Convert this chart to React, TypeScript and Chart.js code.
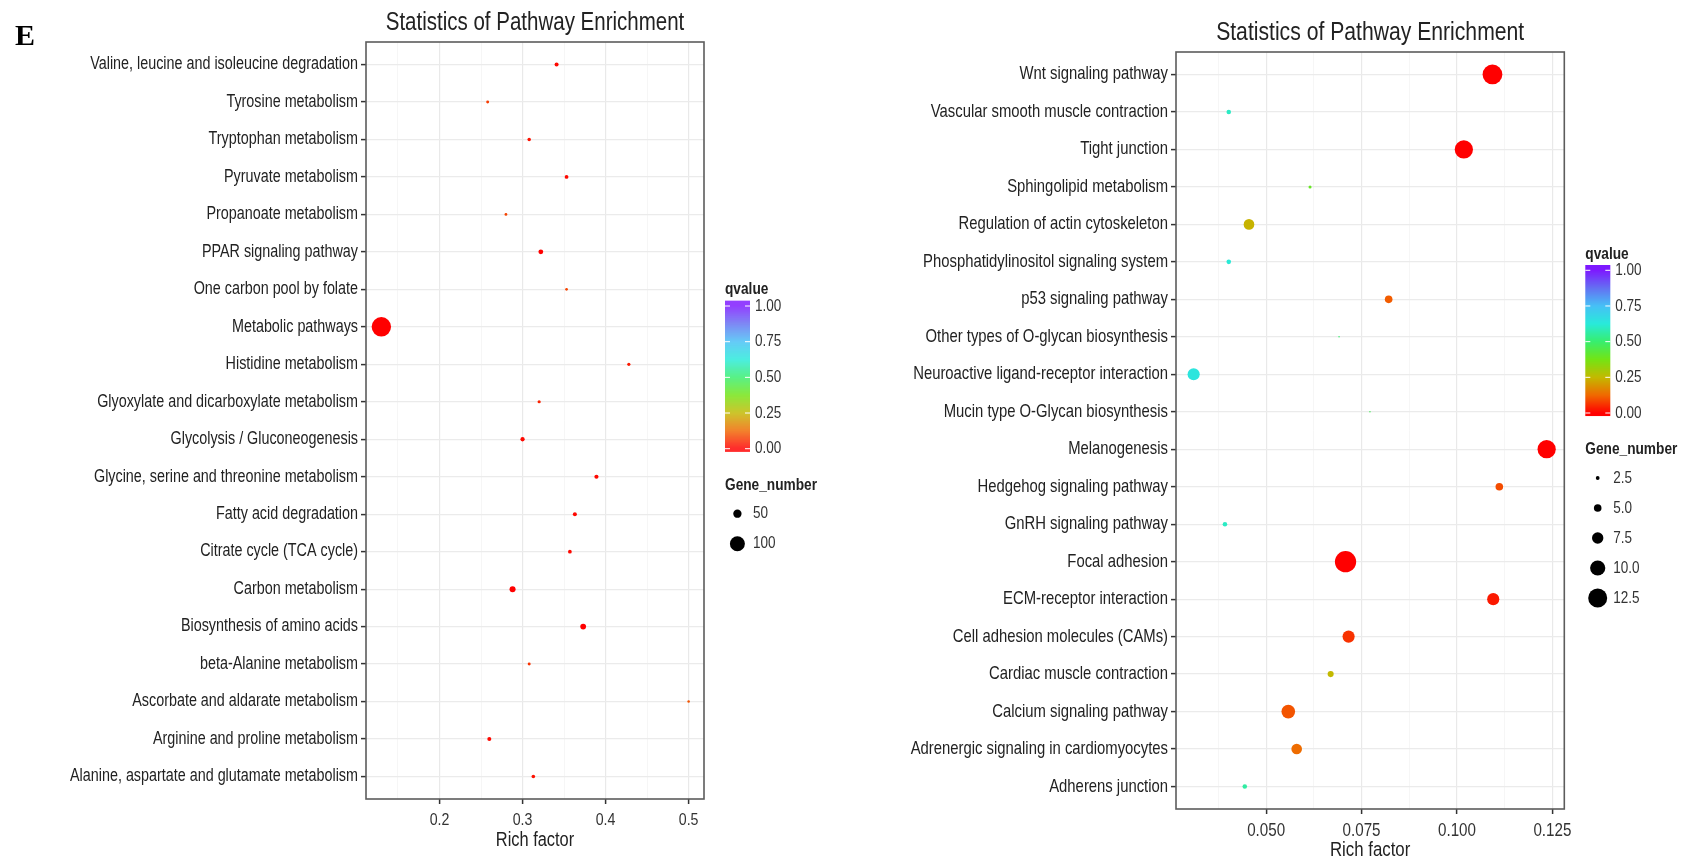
import React, { useEffect, useRef } from 'react';
import { Chart, registerables } from 'chart.js';

Chart.register(...registerables);

// ---------------- Data ----------------
const TITLE = 'Statistics of Pathway Enrichment';
const X_TITLE = 'Rich factor';
const PANEL_TAG = 'E';

// Left panel (listed top to bottom)
const LEFT_PATHWAYS = [
  'Valine, leucine and isoleucine degradation',
  'Tyrosine metabolism',
  'Tryptophan metabolism',
  'Pyruvate metabolism',
  'Propanoate metabolism',
  'PPAR signaling pathway',
  'One carbon pool by folate',
  'Metabolic pathways',
  'Histidine metabolism',
  'Glyoxylate and dicarboxylate metabolism',
  'Glycolysis / Gluconeogenesis',
  'Glycine, serine and threonine metabolism',
  'Fatty acid degradation',
  'Citrate cycle (TCA cycle)',
  'Carbon metabolism',
  'Biosynthesis of amino acids',
  'beta-Alanine metabolism',
  'Ascorbate and aldarate metabolism',
  'Arginine and proline metabolism',
  'Alanine, aspartate and glutamate metabolism',
];
const LEFT_RICH = [0.341, 0.258, 0.308, 0.353, 0.28, 0.322, 0.353, 0.13, 0.428, 0.32, 0.3, 0.389, 0.363, 0.357, 0.288, 0.373, 0.308, 0.5, 0.26, 0.313];
const LEFT_GENES = [18, 10, 14, 16, 9, 24, 8, 133, 12, 12, 20, 19, 18, 16, 33, 31, 10, 7, 18, 15];
const LEFT_QVALUE = [0.01, 0.07, 0.02, 0.01, 0.08, 0.0, 0.08, 0.0, 0.03, 0.04, 0.01, 0.01, 0.01, 0.01, 0.0, 0.0, 0.06, 0.1, 0.01, 0.02];
const LEFT_X_TICKS = [0.2, 0.3, 0.4, 0.5];
const LEFT_X_LABELS = ['0.2', '0.3', '0.4', '0.5'];
const LEFT_X_MINOR = [0.15, 0.25, 0.35, 0.45];
const LEFT_SIZE_BREAKS = [50, 100];
const LEFT_SIZE_LABELS = ['50', '100'];

// Right panel (listed top to bottom)
const RIGHT_PATHWAYS = [
  'Wnt signaling pathway',
  'Vascular smooth muscle contraction',
  'Tight junction',
  'Sphingolipid metabolism',
  'Regulation of actin cytoskeleton',
  'Phosphatidylinositol signaling system',
  'p53 signaling pathway',
  'Other types of O-glycan biosynthesis',
  'Neuroactive ligand-receptor interaction',
  'Mucin type O-Glycan biosynthesis',
  'Melanogenesis',
  'Hedgehog signaling pathway',
  'GnRH signaling pathway',
  'Focal adhesion',
  'ECM-receptor interaction',
  'Cell adhesion molecules (CAMs)',
  'Cardiac muscle contraction',
  'Calcium signaling pathway',
  'Adrenergic signaling in cardiomyocytes',
  'Adherens junction',
];
const RIGHT_RICH = [0.1093, 0.0402, 0.1018, 0.0615, 0.0455, 0.0402, 0.0821, 0.0691, 0.031, 0.0772, 0.1235, 0.1111, 0.0392, 0.0708, 0.1095, 0.0716, 0.0669, 0.0558, 0.058, 0.0444];
const RIGHT_GENES = [13, 3, 12, 2, 7, 3, 5, 1, 8, 1, 12, 5, 3, 14, 8, 8, 4, 9, 7, 3];
const RIGHT_QVALUE = [0.0, 0.6, 0.0, 0.4, 0.24, 0.62, 0.11, 0.5, 0.64, 0.47, 0.0, 0.09, 0.6, 0.0, 0.03, 0.06, 0.25, 0.1, 0.13, 0.56];
const RIGHT_X_TICKS = [0.05, 0.075, 0.1, 0.125];
const RIGHT_X_LABELS = ['0.050', '0.075', '0.100', '0.125'];
const RIGHT_X_MINOR = [0.0375, 0.0625, 0.0875, 0.1125];
const RIGHT_SIZE_BREAKS = [2.5, 5, 7.5, 10, 12.5];
const RIGHT_SIZE_LABELS = ['2.5', '5.0', '7.5', '10.0', '12.5'];

const Q_BREAKS = [0, 0.25, 0.5, 0.75, 1];
const Q_LABELS = ['0.00', '0.25', '0.50', '0.75', '1.00'];

// ---------------- Styles ----------------
const FONT = '"Liberation Sans", Arial, Helvetica, sans-serif';
const TEXT = '#222222';
const SQUEEZE = 0.82; // narrow-sans look of the original figure

const Q_STOPS: [number, number[]][] = [
  [0.0, [255, 0, 0]],
  [0.125, [240, 105, 0]],
  [0.25, [195, 185, 0]],
  [0.375, [115, 228, 20]],
  [0.5, [55, 238, 110]],
  [0.625, [40, 234, 218]],
  [0.75, [70, 192, 246]],
  [0.875, [100, 112, 242]],
  [1.0, [125, 25, 255]],
];

function qColor(q: number): string {
  const v = Math.max(0, Math.min(1, q));
  for (let i = 1; i < Q_STOPS.length; i++) {
    const [p1, c1] = Q_STOPS[i];
    const [p0, c0] = Q_STOPS[i - 1];
    if (v <= p1) {
      const t = (v - p0) / (p1 - p0);
      const c = c0.map((a, k) => Math.round(a + (c1[k] - a) * t));
      return `rgb(${c[0]},${c[1]},${c[2]})`;
    }
  }
  const c = Q_STOPS[Q_STOPS.length - 1][1];
  return `rgb(${c[0]},${c[1]},${c[2]})`;
}

type Panel = {
  key: string;
  pathways: string[];
  rich: number[];
  genes: number[];
  qvalue: number[];
  xTicks: number[];
  xLabels: string[];
  xMinor: number[];
  sizeBreaks: number[];
  sizeLabels: string[];
  radius: (n: number) => number;
  canvasLeft: number;
  canvasWidth: number;
  plotLeft: number;
  plotRight: number;
  plotTop: number;
  plotBottom: number;
  labelSize: number;
  tickSize: number;
  tickPad: number;
  axisTitleSize: number;
  axisTitlePad: number;
  titleSize: number;
  legendTop: number;
  showTag: boolean;
};

const H = 859;

const PANELS: Panel[] = [
  {
    key: 'left',
    pathways: LEFT_PATHWAYS,
    rich: LEFT_RICH,
    genes: LEFT_GENES,
    qvalue: LEFT_QVALUE,
    xTicks: LEFT_X_TICKS,
    xLabels: LEFT_X_LABELS,
    xMinor: LEFT_X_MINOR,
    sizeBreaks: LEFT_SIZE_BREAKS,
    sizeLabels: LEFT_SIZE_LABELS,
    radius: (n) => 0.8 + 0.067 * n,
    canvasLeft: 0,
    canvasWidth: 880,
    plotLeft: 366,
    plotRight: 704,
    plotTop: 42,
    plotBottom: 799,
    labelSize: 17.5,
    tickSize: 17.3,
    tickPad: 5.6,
    axisTitleSize: 20,
    axisTitlePad: 7,
    titleSize: 25,
    legendTop: 300.7,
    showTag: true,
  },
  {
    key: 'right',
    pathways: RIGHT_PATHWAYS,
    rich: RIGHT_RICH,
    genes: RIGHT_GENES,
    qvalue: RIGHT_QVALUE,
    xTicks: RIGHT_X_TICKS,
    xLabels: RIGHT_X_LABELS,
    xMinor: RIGHT_X_MINOR,
    sizeBreaks: RIGHT_SIZE_BREAKS,
    sizeLabels: RIGHT_SIZE_LABELS,
    radius: (n) => 0.76 * n,
    canvasLeft: 880,
    canvasWidth: 808,
    plotLeft: 296,
    plotRight: 684.3,
    plotTop: 52,
    plotBottom: 809,
    labelSize: 18.1,
    tickSize: 18.5,
    tickPad: 5.5,
    axisTitleSize: 20.5,
    axisTitlePad: -3.3,
    titleSize: 25.8,
    legendTop: 265,
    showTag: false,
  },
];

function makeDecor(p: Panel) {
  return {
    id: 'decor_' + p.key,
    beforeDraw(chart: any) {
      const ctx = chart.ctx;
      if (!ctx.__origFill) {
        const orig = ctx.fillText;
        ctx.__origFill = orig;
        ctx.fillText = function (text: any, x: number, y: number, maxWidth?: number) {
          const w = this.measureText(String(text)).width * SQUEEZE;
          const mw = maxWidth === undefined ? w : Math.min(maxWidth, w);
          return orig.call(this, text, x, y, Math.max(mw, 0.1));
        };
      }
    },
    afterDatasetsDraw(chart: any) {
      const { ctx, chartArea: ca } = chart;
      ctx.save();
      ctx.strokeStyle = '#5c5c5c';
      ctx.lineWidth = 1.6;
      ctx.strokeRect(ca.left, ca.top, ca.right - ca.left, ca.bottom - ca.top);
      ctx.restore();
    },
    afterDraw(chart: any) {
      const { ctx, chartArea: ca } = chart;
      ctx.save();
      // title
      ctx.fillStyle = TEXT;
      ctx.font = `${p.titleSize}px ${FONT}`;
      ctx.textAlign = 'center';
      ctx.textBaseline = 'alphabetic';
      ctx.fillText(TITLE, (ca.left + ca.right) / 2, ca.top - 12);

      // colour bar legend
      const bx = ca.right + 21;
      const by = p.legendTop;
      const bw = 25;
      const bh = 151;
      const vTop = by + 5.3;
      const vSpan = 142.7;
      ctx.fillStyle = TEXT;
      ctx.font = `bold 16.7px ${FONT}`;
      ctx.textAlign = 'left';
      ctx.textBaseline = 'middle';
      ctx.fillText('qvalue', bx, by - 11);
      for (let i = 0; i < bh; i++) {
        const v = 1 - (i + 0.5 - 5.3) / vSpan;
        ctx.fillStyle = qColor(v);
        ctx.fillRect(bx, by + i, bw, 1.05);
      }
      ctx.strokeStyle = '#ffffff';
      ctx.lineWidth = 1;
      ctx.font = `16.5px ${FONT}`;
      Q_BREAKS.forEach((q, i) => {
        const y = vTop + (1 - q) * vSpan;
        ctx.beginPath();
        ctx.moveTo(bx, y);
        ctx.lineTo(bx + 5, y);
        ctx.moveTo(bx + bw - 5, y);
        ctx.lineTo(bx + bw, y);
        ctx.stroke();
        ctx.fillStyle = '#333';
        ctx.fillText(Q_LABELS[i], bx + 30, y);
      });

      // size legend
      ctx.fillStyle = TEXT;
      ctx.font = `bold 16.7px ${FONT}`;
      ctx.fillText('Gene_number', bx, by + 184.5);
      ctx.font = `16.5px ${FONT}`;
      p.sizeBreaks.forEach((s, i) => {
        const y = by + 213 + 30 * i;
        ctx.fillStyle = '#000';
        ctx.beginPath();
        ctx.arc(bx + 12.4, y, p.radius(s), 0, Math.PI * 2);
        ctx.fill();
        ctx.fillStyle = '#333';
        ctx.fillText(p.sizeLabels[i], bx + 28, y);
      });

      // restore normal text drawing
      if (ctx.__origFill) {
        ctx.fillText = ctx.__origFill;
        delete ctx.__origFill;
      }

      if (p.showTag) {
        ctx.fillStyle = '#000';
        ctx.font = `bold 30px "Liberation Serif", "Times New Roman", serif`;
        ctx.textAlign = 'left';
        ctx.textBaseline = 'alphabetic';
        ctx.fillText(PANEL_TAG, 15, 45);
      }
      ctx.restore();
    },
  };
}

function buildConfig(p: Panel): any {
  const n = p.pathways.length;
  const xs = p.rich;
  const lo = Math.min(...xs);
  const hi = Math.max(...xs);
  const pad = (hi - lo) * 0.05;
  const minorSet = new Set(p.xMinor);
  const isMinor = (ctx: any) => ctx && ctx.tick && minorSet.has(ctx.tick.value);
  return {
    type: 'bubble',
    data: {
      datasets: [
        {
          data: p.rich.map((x, i) => ({ x, y: n - 1 - i, r: p.radius(p.genes[i]) })),
          backgroundColor: p.qvalue.map(qColor),
          borderWidth: 0,
          hoverRadius: 0,
          hoverBorderWidth: 0,
        },
      ],
    },
    options: {
      responsive: false,
      maintainAspectRatio: false,
      animation: false,
      events: [],
      layout: { padding: { left: 0, top: p.plotTop, right: p.canvasWidth - p.plotRight, bottom: 0 } },
      plugins: { legend: { display: false }, tooltip: { enabled: false }, title: { display: false } },
      scales: {
        x: {
          type: 'linear',
          position: 'bottom',
          bounds: 'data',
          min: lo - pad,
          max: hi + pad,
          afterBuildTicks: (axis: any) => {
            const vals = [...p.xTicks, ...p.xMinor].sort((a, b) => a - b);
            axis.ticks = vals.map((v) => ({ value: v }));
          },
          afterFit: (axis: any) => {
            axis.height = H - p.plotBottom;
          },
          border: { display: false },
          grid: {
            color: (ctx: any) => (isMinor(ctx) ? '#f4f4f4' : '#e9e9e9'),
            lineWidth: (ctx: any) => (isMinor(ctx) ? 0.8 : 1.2),
            drawTicks: true,
            tickLength: 5,
            tickColor: (ctx: any) => (isMinor(ctx) ? 'rgba(0,0,0,0)' : '#333333'),
            tickWidth: 1.5,
          },
          ticks: {
            autoSkip: false,
            maxRotation: 0,
            minRotation: 0,
            padding: p.tickPad,
            color: '#333',
            font: { family: FONT, size: p.tickSize },
            callback: (v: number) => {
              const idx = p.xTicks.findIndex((t) => Math.abs(t - v) < 1e-9);
              return idx >= 0 ? p.xLabels[idx] : '';
            },
          },
          title: {
            display: true,
            text: X_TITLE,
            color: TEXT,
            font: { family: FONT, size: p.axisTitleSize, lineHeight: 1.2 },
            padding: { top: 0, bottom: p.axisTitlePad },
          },
        },
        y: {
          type: 'linear',
          bounds: 'data',
          min: -0.6,
          max: n - 0.4,
          afterBuildTicks: (axis: any) => {
            axis.ticks = p.pathways.map((_, i) => ({ value: i }));
          },
          afterFit: (axis: any) => {
            axis.width = p.plotLeft;
          },
          border: { display: false },
          grid: {
            color: '#ebebeb',
            lineWidth: 1.2,
            drawTicks: true,
            tickLength: 5,
            tickColor: '#333333',
            tickWidth: 1.5,
          },
          ticks: {
            autoSkip: false,
            padding: 3,
            color: TEXT,
            font: { family: FONT, size: p.labelSize },
            callback: (v: number) => p.pathways[n - 1 - Math.round(v)] ?? '',
          },
        },
      },
    },
    plugins: [makeDecor(p)],
  };
}

function PanelChart({ p }: { p: Panel }) {
  const ref = useRef<HTMLCanvasElement | null>(null);
  useEffect(() => {
    if (!ref.current) return;
    const chart = new Chart(ref.current, buildConfig(p));
    return () => chart.destroy();
  }, [p]);
  return (
    <canvas
      ref={ref}
      width={p.canvasWidth}
      height={H}
      style={{ position: 'absolute', left: p.canvasLeft, top: 0, width: p.canvasWidth, height: H, display: 'block' }}
    />
  );
}

export default function App() {
  return (
    <div
      style={{
        position: 'absolute',
        left: 0,
        top: 0,
        width: 1688,
        height: H,
        overflow: 'hidden',
        background: '#ffffff',
      }}
    >
      {PANELS.map((p) => (
        <PanelChart key={p.key} p={p} />
      ))}
    </div>
  );
}
